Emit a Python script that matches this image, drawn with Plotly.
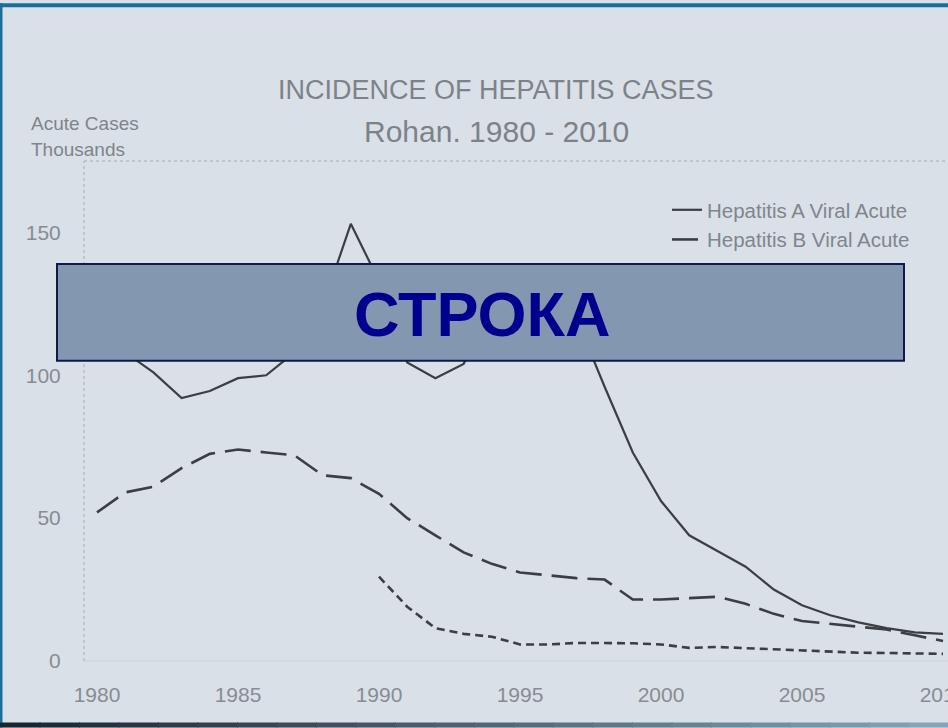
import plotly.graph_objects as go

# Acute hepatitis cases, thousands per year
years = list(range(1980, 2011))
hep_a = [110, 108, 101, 92, 94.5, 99, 100, 108, 124, 153, 133, 104.5, 99, 104, 122,
         132, 128, 120, 96, 73, 56, 44, 38.5, 33, 25, 19.5, 16, 13.5, 11.5, 10, 9.5]
hep_b = [52, 59, 61, 67.5, 72.5, 74, 73, 72, 65, 64, 58.5, 50, 44, 38, 34,
         31, 30, 29, 28.5, 21.5, 21.5, 22, 22.5, 20, 16.5, 14, 13, 12, 11, 9, 7]
hep_c_years = list(range(1990, 2011))
hep_c = [29.5, 19, 11.5, 9.5, 8.5, 5.8, 5.8, 6.3, 6.3, 6.2, 5.8, 4.6, 4.9, 4.5,
         3.9, 3.6, 3.3, 2.9, 2.8, 2.6, 2.5]

series_names = ["Hepatitis A Viral Acute", "Hepatitis B Viral Acute", "Hepatitis C Viral Acute"]
y_ticks = [0, 50, 100, 150]
x_ticks = [1980, 1985, 1990, 1995, 2000, 2005, 2010]

W, H = 948, 728
L, R, T, B = 84, 0, 161, 66.5
PW, PH = W - L - R, H - T - B

def px(x):
    return (x - L) / PW

def py(y):
    return (H - B - y) / PH

BG = "#dae0e8"
INK = "#3b3e43"
GREY = "#878c93"

fig = go.Figure()
fig.add_trace(go.Scatter(x=years, y=hep_a, mode="lines", name=series_names[0],
                         line=dict(color=INK, width=2.2)))
fig.add_trace(go.Scatter(x=years, y=hep_b, mode="lines", name=series_names[1],
                         line=dict(color=INK, width=2.6, dash="26px,10px")))
# the banner sits over this series' legend entry, so it is left out of the legend
fig.add_trace(go.Scatter(x=hep_c_years, y=hep_c, mode="lines", name=series_names[2],
                         showlegend=False,
                         line=dict(color=INK, width=2.6, dash="8px,5px")))

shapes = [
    # dotted frame: top edge and left axis
    dict(type="line", xref="paper", yref="paper", x0=0, x1=1, y0=1, y1=1,
         line=dict(color="#a4a9b0", width=1.2, dash="dot")),
    dict(type="line", xref="paper", yref="paper", x0=0, x1=0, y0=0, y1=1,
         line=dict(color="#b0b5bb", width=1.2, dash="dot")),
    dict(type="line", xref="paper", yref="paper", x0=0, x1=1, y0=0, y1=0,
         line=dict(color="#cdd2d9", width=1)),
    # slide frame
    dict(type="rect", xref="paper", yref="paper", x0=px(0), x1=px(W), y0=py(7), y1=py(3),
         line=dict(width=0), fillcolor="#1b6e9c"),
    dict(type="rect", xref="paper", yref="paper", x0=px(0), x1=px(2.5), y0=py(H), y1=py(3),
         line=dict(width=0), fillcolor="#1b6e9c"),
    # caption banner
    dict(type="rect", xref="paper", yref="paper", x0=px(57), x1=px(904), y0=py(361), y1=py(264),
         line=dict(color="#0d1a4a", width=2), fillcolor="#8397b0", layer="above"),
]

# bottom slide edge, dark to light
n_seg = 24
c0 = (24, 38, 52)
c1 = (130, 165, 185)
for i in range(n_seg):
    t = i / (n_seg - 1)
    col = tuple(int(c0[k] + (c1[k] - c0[k]) * t) for k in range(3))
    shapes.append(dict(type="rect", xref="paper", yref="paper",
                       x0=px(W * i / n_seg), x1=px(W * (i + 1) / n_seg + 1),
                       y0=py(H), y1=py(723), line=dict(width=0),
                       fillcolor="rgb(%d,%d,%d)" % col))

def note(text, x, y, size, color, xanchor="center"):
    return dict(text=text, xref="paper", yref="paper", x=px(x), y=py(y),
                xanchor=xanchor, yanchor="middle", showarrow=False,
                font=dict(family="Liberation Sans", size=size, color=color))

annotations = [
    note("INCIDENCE OF HEPATITIS CASES", 496, 90, 27, "#7d8289"),
    note("Rohan. 1980 - 2010", 496, 131, 30, "#7d8289"),
    note("Acute Cases", 29, 123, 19, "#7f848b", xanchor="left"),
    note("Thousands", 29, 149, 19, "#7f848b", xanchor="left"),
    note("<b>СТРОКА</b>", 482, 314, 63, "#00008f"),
]

fig.update_layout(
    width=W, height=H,
    margin=dict(l=L, r=R, t=T, b=B, pad=0),
    paper_bgcolor=BG, plot_bgcolor=BG,
    showlegend=True,
    legend=dict(x=px(667), y=py(190), xanchor="left", yanchor="top",
                bgcolor="rgba(0,0,0,0)", borderwidth=0,
                font=dict(family="Liberation Sans", size=20.5, color="#80858c")),
    shapes=shapes,
    annotations=annotations,
    xaxis=dict(range=[1979.539, 2010.177], tickvals=x_ticks,
               ticktext=[str(v) for v in x_ticks],
               showgrid=False, zeroline=False, showline=False, automargin=False,
               ticks="outside", ticklen=15, tickcolor="rgba(0,0,0,0)",
               ticklabeloverflow="allow",
               tickfont=dict(family="Liberation Sans", size=21, color=GREY)),
    yaxis=dict(range=[0, 175], tickvals=y_ticks,
               ticktext=[str(v) for v in y_ticks],
               showgrid=False, zeroline=False, showline=False, automargin=False,
               ticks="outside", ticklen=18, tickcolor="rgba(0,0,0,0)",
               tickfont=dict(family="Liberation Sans", size=21, color=GREY)),
)

fig.write_html("out.html")
